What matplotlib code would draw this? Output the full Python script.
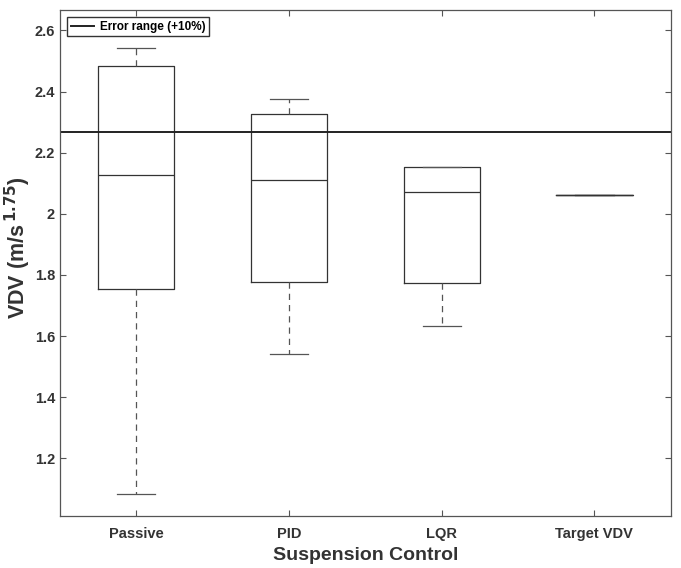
import matplotlib.pyplot as plt

plt.rcParams["font.family"] = ["Liberation Sans", "DejaVu Sans"]

categories = ["Passive", "PID", "LQR", "Target VDV"]
whislo = [1.083, 1.540, 1.633, 2.061]
q1 = [1.754, 1.777, 1.772, 2.061]
med = [2.127, 2.110, 2.070, 2.061]
q3 = [2.482, 2.328, 2.152, 2.061]
whishi = [2.543, 2.375, 2.152, 2.061]
error_range = 2.266

stats = []
for i, name in enumerate(categories):
    stats.append(
        dict(label=name, whislo=whislo[i], q1=q1[i], med=med[i], q3=q3[i], whishi=whishi[i], fliers=[])
    )

fig = plt.figure(figsize=(6.81, 5.68), dpi=100)
ax = fig.add_axes([0.088, 0.0915, 0.897, 0.8905])

ax.bxp(
    stats,
    positions=[1, 2, 3, 4],
    widths=0.5,
    showfliers=False,
    boxprops=dict(color="#333333", linewidth=0.9),
    medianprops=dict(color="#333333", linewidth=0.9),
    whiskerprops=dict(color="#555555", linewidth=0.9, linestyle=(0, (5, 4))),
    capprops=dict(color="#555555", linewidth=0.9),
    capwidths=0.25,
)

ax.axhline(error_range, color="#222222", linewidth=1.4, label="Error range (+10%)")

ax.set_xlim(0.5, 4.5)
ax.set_ylim(1.011, 2.666)
ax.set_yticks([1.2, 1.4, 1.6, 1.8, 2.0, 2.2, 2.4, 2.6])
ax.set_yticklabels(["1.2", "1.4", "1.6", "1.8", "2", "2.2", "2.4", "2.6"])
ax.tick_params(direction="in", length=4, color="#555555", labelsize=10.5,
               top=True, right=True)
ax.tick_params(axis="x", pad=8)
for lbl in ax.get_xticklabels() + ax.get_yticklabels():
    lbl.set_fontweight("bold")
    lbl.set_color("#333333")
for s in ax.spines.values():
    s.set_color("#555555")
    s.set_linewidth(0.9)

ax.set_xlabel("Suspension Control", fontsize=14, fontweight="bold", color="#333333", labelpad=4)
ax.set_ylabel(r"VDV (m/s$^{\,\mathbf{1.75}}$)", fontsize=15.5, fontweight="bold", color="#333333")
ax.yaxis.set_label_coords(-0.044, 0.53)

leg = ax.legend(loc="upper left", prop=dict(weight="bold", size=8.5),
                fancybox=False, edgecolor="#333333", framealpha=1,
                handlelength=2.0, handletextpad=0.5, borderpad=0.3, borderaxespad=0.6)

fig.savefig("out.png", dpi=100)
